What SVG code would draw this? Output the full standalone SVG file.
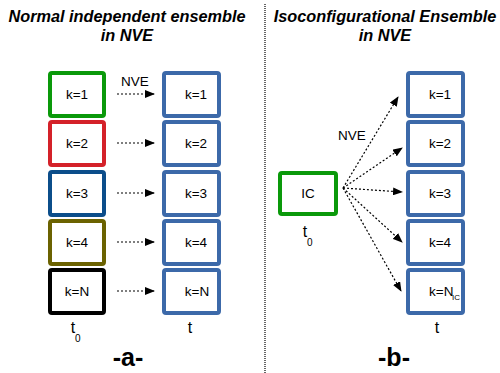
<svg xmlns="http://www.w3.org/2000/svg" width="500" height="373" viewBox="0 0 500 373">
<style>
.box{fill:#fff;stroke-width:4}
.lbl{font-family:"Liberation Sans",Arial,sans-serif;font-size:13.5px;fill:#000;text-anchor:middle}
.ttl{font-family:"Liberation Sans",Arial,sans-serif;font-size:16.3px;font-weight:bold;font-style:italic;fill:#000;text-anchor:middle}
.big{font-family:"Liberation Sans",Arial,sans-serif;font-size:25px;font-weight:bold;fill:#000;text-anchor:middle}
.tl{font-family:"Liberation Sans",Arial,sans-serif;font-size:16px;fill:#000;text-anchor:middle}
.sub{font-family:"Liberation Sans",Arial,sans-serif;font-size:10px;fill:#000}
.arr{stroke:#000;stroke-width:1.2;stroke-dasharray:2,2;fill:none;marker-end:url(#ah)}
.tb{stroke:#3c69a9}
</style>
<defs>
<marker id="ah" markerWidth="10" markerHeight="8" refX="9" refY="4" orient="auto" markerUnits="userSpaceOnUse">
<path d="M0,0 L10,4 L0,8 Z" fill="#000"/>
</marker>
</defs>
<line x1="265" y1="4" x2="265" y2="373" stroke="#666" stroke-width="2" stroke-dasharray="1,1"/>
<text class="ttl" x="127" y="22">Normal independent ensemble</text>
<text class="ttl" x="127" y="41">in NVE</text>
<text class="ttl" x="385" y="22">Isoconfigurational Ensemble</text>
<text class="ttl" x="385" y="41">in NVE</text>

<g id="a-k1"><rect class="box" x="50" y="73" width="54" height="43" rx="2" stroke="#0a990a"/><text class="lbl" x="77" y="99">k=1</text></g>
<g id="a-k2"><rect class="box" x="50" y="122" width="54" height="43" rx="2" stroke="#d42129"/><text class="lbl" x="77" y="148">k=2</text></g>
<g id="a-k3"><rect class="box" x="50" y="172" width="54" height="43" rx="2" stroke="#0b4d8a"/><text class="lbl" x="77" y="198">k=3</text></g>
<g id="a-k4"><rect class="box" x="50" y="221" width="54" height="43" rx="2" stroke="#6b6200"/><text class="lbl" x="77" y="247">k=4</text></g>
<g id="a-kN"><rect class="box" x="50" y="270" width="54" height="43" rx="2" stroke="#000"/><text class="lbl" x="77" y="296">k=N</text></g>

<g id="at-k1"><rect class="box tb" x="164" y="73" width="55" height="43" rx="2"/><text class="lbl" x="196" y="99">k=1</text></g>
<g id="at-k2"><rect class="box tb" x="164" y="122" width="55" height="43" rx="2"/><text class="lbl" x="196" y="148">k=2</text></g>
<g id="at-k3"><rect class="box tb" x="164" y="172" width="55" height="43" rx="2"/><text class="lbl" x="196" y="198">k=3</text></g>
<g id="at-k4"><rect class="box tb" x="164" y="221" width="55" height="43" rx="2"/><text class="lbl" x="196" y="247">k=4</text></g>
<g id="at-kN"><rect class="box tb" x="164" y="270" width="55" height="43" rx="2"/><text class="lbl" x="197" y="296">k=N</text></g>

<g id="b-IC"><rect class="box" x="280" y="173" width="56" height="41" rx="2" stroke="#0a990a"/><text class="lbl" x="308" y="198">IC</text></g>
<g id="bt-k1"><rect class="box tb" x="408" y="73" width="55" height="43" rx="2"/><text class="lbl" x="440" y="99">k=1</text></g>
<g id="bt-k2"><rect class="box tb" x="408" y="122" width="55" height="43" rx="2"/><text class="lbl" x="440" y="148">k=2</text></g>
<g id="bt-k3"><rect class="box tb" x="408" y="172" width="55" height="43" rx="2"/><text class="lbl" x="440" y="198">k=3</text></g>
<g id="bt-k4"><rect class="box tb" x="408" y="221" width="55" height="43" rx="2"/><text class="lbl" x="440" y="247">k=4</text></g>
<g id="bt-kN"><rect class="box tb" x="408" y="270" width="55" height="43" rx="2"/><text class="lbl" x="429" y="296" style="text-anchor:start">k=N</text><text class="sub" x="452" y="300" style="font-size:8px">IC</text></g>

<g id="connectors">
<line class="arr" x1="117" y1="94" x2="154" y2="94"/>
<line class="arr" x1="117" y1="143" x2="154" y2="143"/>
<line class="arr" x1="117" y1="193" x2="154" y2="193"/>
<line class="arr" x1="117" y1="242" x2="154" y2="242"/>
<line class="arr" x1="117" y1="291" x2="154" y2="291"/>
<line class="arr" x1="343" y1="188" x2="398" y2="97"/>
<line class="arr" x1="343" y1="188" x2="402" y2="148"/>
<line class="arr" x1="343" y1="188" x2="402" y2="192"/>
<line class="arr" x1="343" y1="188" x2="402" y2="242"/>
<line class="arr" x1="343" y1="188" x2="401" y2="291"/>
</g>
<text class="lbl" x="135" y="86">NVE</text>
<text class="lbl" x="352" y="140">NVE</text>

<text class="tl" x="73" y="333">t</text><text class="sub" x="75" y="342">0</text>
<text class="tl" x="190" y="333">t</text>
<text class="tl" x="305" y="237">t</text><text class="sub" x="307" y="246">0</text>
<text class="tl" x="437" y="333">t</text>
<text class="big" x="128" y="366">-a-</text>
<text class="big" x="394" y="366">-b-</text>
</svg>
